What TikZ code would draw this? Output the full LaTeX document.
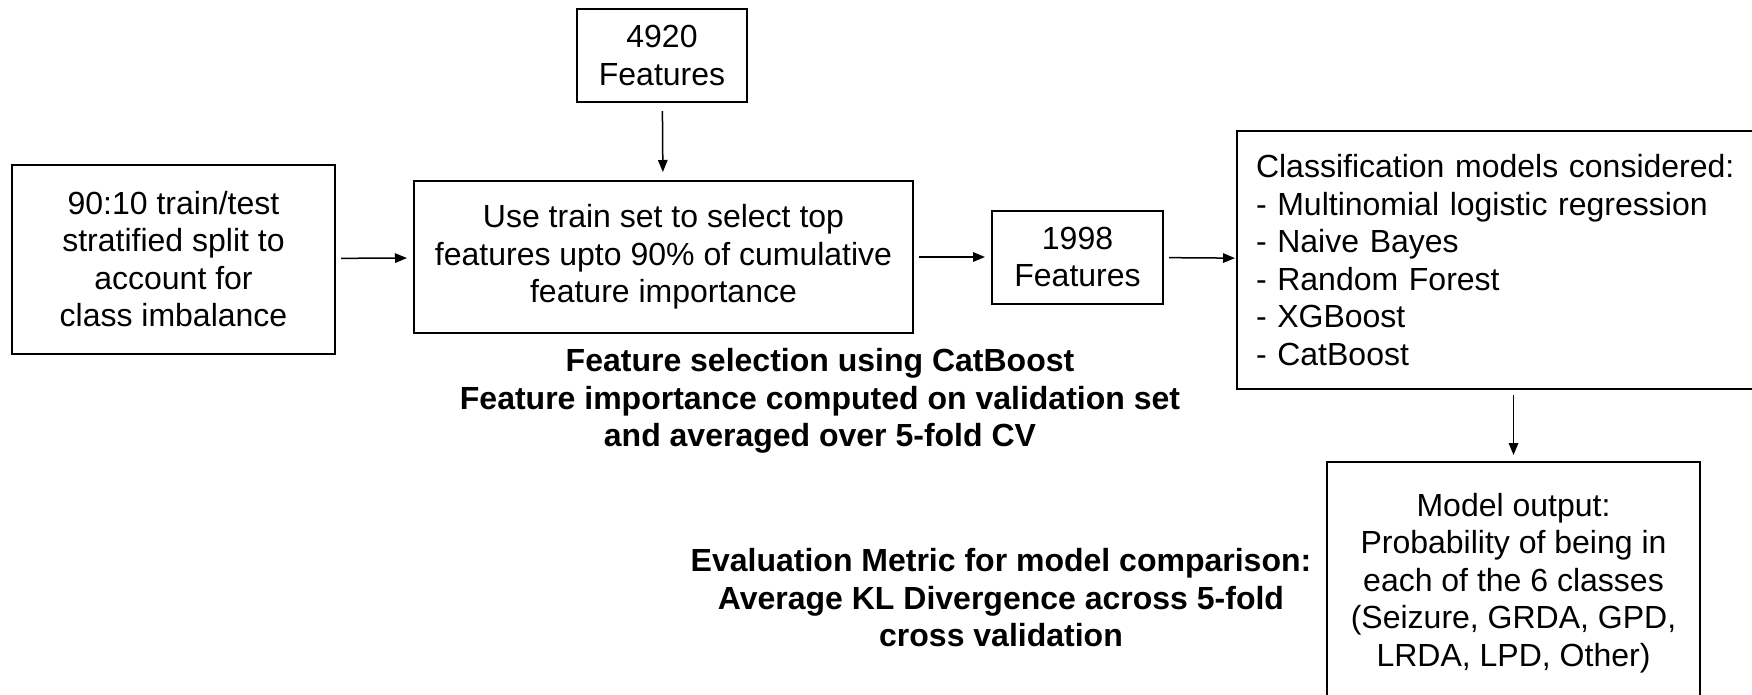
\documentclass[tikz,border=0pt]{standalone}
\usepackage{fontspec}
\setmainfont{Liberation Sans}
\usetikzlibrary{arrows.meta}
\tikzset{
  box/.style={draw=black, line width=2pt, align=center, inner sep=0pt,
    font=\fontsize{32}{37.5}\selectfont},
  arr/.style={draw=black, line width=1.5pt,
    -{Triangle[length=12pt,width=9.5pt]}, shorten <=5pt, shorten >=6pt},
  lbl/.style={align=center, inner sep=0pt,
    font=\fontsize{32}{37.5}\selectfont\bfseries}
}
\begin{document}
\begin{tikzpicture}[x=1pt,y=-1pt]
\useasboundingbox (0,0) rectangle (1752,694);
\node[box, minimum width=323pt, minimum height=189pt] (split) at (173.5,259)
  {90:10 train/test\\stratified split to\\account for\\class imbalance};
\node[box, minimum width=170pt, minimum height=93pt] (f4920) at (662,55.5)
  {4920\\Features};
\node[box, minimum width=499pt, minimum height=152pt] (use) at (663.5,257)
  {Use train set to select top\\features upto 90\% of cumulative\\feature importance};
\node[box, minimum width=171pt, minimum height=93pt] (f1998) at (1077.5,257)
  {1998\\Features};
\node[box, minimum width=524pt, minimum height=258pt, text width=486pt,
  inner xsep=19pt, align=left] (models) at (1499,260)
  {Classification models considered:\\- Multinomial logistic regression\\- Naive Bayes\\- Random Forest\\- XGBoost\\- CatBoost};
\node[box, minimum width=373pt, minimum height=242pt] (output) at (1513.5,583)
  {Model output:\\Probability of being in\\each of the 6 classes\\(Seizure, GRDA, GPD,\\LRDA, LPD, Other)};
\node[lbl] (featsel) at (820,401)
  {Feature selection using CatBoost\\Feature importance computed on validation set\\and averaged over 5-fold CV};
\node[lbl] (eval) at (1001,598)
  {Evaluation Metric for model comparison:\\Average KL Divergence across 5-fold\\cross validation};
\draw[arr] (split) -- (use);
\draw[arr, shorten <=8pt, shorten >=8pt] (f4920) -- (use);
\draw[arr] (use) -- (f1998);
\draw[arr, shorten >=1pt] (f1998) -- (models);
\draw[arr] (output.north |- models.south) -- (output.north);
\end{tikzpicture}
\end{document}
